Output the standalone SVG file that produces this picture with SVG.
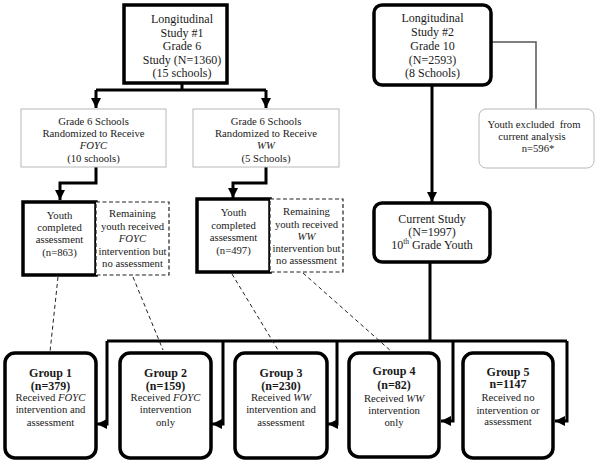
<svg xmlns="http://www.w3.org/2000/svg" width="600" height="465" viewBox="0 0 600 465">
<defs>
<marker id="ah" markerUnits="userSpaceOnUse" markerWidth="10" markerHeight="10" refX="10" refY="5" orient="auto">
<path d="M0,0 L10,5 L0,10 z" fill="#000"/>
</marker>
<style>
text{fill:#1a1a1a;text-anchor:middle}
.t12{font-size:12px}
.t11{font-size:10.7px}
.b{font-size:12px;font-weight:bold}
.thick{fill:#fff;stroke:#000;stroke-width:3.5}
.thin{fill:#fff;stroke:#b8b8b8;stroke-width:1}
.dbox{fill:#fff;stroke:#222;stroke-width:1.2;stroke-dasharray:4 2.5}
.conn{fill:none;stroke:#000;stroke-width:3}
.gray{fill:none;stroke:#555;stroke-width:1.5}
.dash{fill:none;stroke:#222;stroke-width:1;stroke-dasharray:4 3}
</style>
</defs>
<g font-family="'Liberation Serif', 'DejaVu Serif', serif">
<g id="connectors">
<path class="conn" d="M182,83 V90 M96,90 H266"/>
<path class="conn" d="M96,90 V108" marker-end="url(#ah)"/>
<path class="conn" d="M266,90 V108" marker-end="url(#ah)"/>
<path class="conn" d="M96,167 V183 H60 V200" marker-end="url(#ah)"/>
<path class="conn" d="M266,167 V183 H233 V198" marker-end="url(#ah)"/>
<path class="gray" d="M491,42 H536 V109"/>
<path class="conn" d="M432,85 V202" marker-end="url(#ah)"/>
<path class="conn" d="M430,262 V341 M107,341 H567"/>
<path class="conn" d="M107,341 V424 H97" marker-end="url(#ah)"/>
<path class="conn" d="M223,341 V424 H212" marker-end="url(#ah)"/>
<path class="conn" d="M337,341 V424 H328" marker-end="url(#ah)"/>
<path class="conn" d="M453,341 V421 H441" marker-end="url(#ah)"/>
<path class="conn" d="M567,341 V421 H555" marker-end="url(#ah)"/>
<path class="dash" d="M58,277 L50,352"/>
<path class="dash" d="M133,277 L163,350"/>
<path class="dash" d="M232,274 L278,350"/>
<path class="dash" d="M303,273 L392,352"/>
</g>
<g id="study1">
<rect class="thick" x="124" y="5" width="103" height="78"/>
<text class="t12" x="182" y="23">Longitudinal</text>
<text class="t12" x="182" y="36.5">Study #1</text>
<text class="t12" x="182" y="50">Grade 6</text>
<text class="t12" x="182" y="63.5">Study (N=1360)</text>
<text class="t12" x="182" y="77">(15 schools)</text>
</g>
<g id="study2">
<rect class="thick" x="374" y="5" width="117" height="80" rx="8"/>
<text class="t12" x="432.5" y="22">Longitudinal</text>
<text class="t12" x="432.5" y="36">Study #2</text>
<text class="t12" x="432.5" y="50">Grade 10</text>
<text class="t12" x="432.5" y="63.5">(N=2593)</text>
<text class="t12" x="432.5" y="77">(8 Schools)</text>
</g>
<g id="foyc-schools">
<rect class="thin" x="21" y="109" width="145" height="58"/>
<text class="t11" x="93.5" y="124.5">Grade 6 Schools</text>
<text class="t11" x="93.5" y="137">Randomized to Receive</text>
<text class="t11" x="93.5" y="149" font-style="italic">FOYC</text>
<text class="t11" x="93.5" y="161.5">(10 schools)</text>
</g>
<g id="ww-schools">
<rect class="thin" x="193" y="109" width="146" height="58"/>
<text class="t11" x="266" y="124.5">Grade 6 Schools</text>
<text class="t11" x="266" y="137">Randomized to Receive</text>
<text class="t11" x="266" y="149" font-style="italic">WW</text>
<text class="t11" x="266" y="161.5">(5 Schools)</text>
</g>
<g id="excluded">
<rect class="thin" x="479" y="109" width="115" height="59" rx="7"/>
<text class="t11" x="534" y="128" xml:space="preserve">Youth excluded  from</text>
<text class="t11" x="532" y="140">current analysis</text>
<text class="t11" x="538" y="152">n=596*</text>
</g>
<g id="foyc-completed">
<rect class="thick" x="23" y="202" width="73" height="73"/>
<text class="t11" x="59.5" y="218.5">Youth</text>
<text class="t11" x="59.5" y="231">completed</text>
<text class="t11" x="59.5" y="243">assessment</text>
<text class="t11" x="59.5" y="255.5">(n=863)</text>
</g>
<g id="foyc-remaining">
<rect class="dbox" x="96" y="202" width="73" height="73"/>
<text class="t11" x="132.5" y="217">Remaining</text>
<text class="t11" x="132.5" y="229.5">youth received</text>
<text class="t11" x="132.5" y="241.5" font-style="italic">FOYC</text>
<text class="t11" x="132.5" y="254.5">intervention but</text>
<text class="t11" x="132.5" y="266.5">no assessment</text>
</g>
<g id="ww-completed">
<rect class="thick" x="197" y="199" width="73" height="73"/>
<text class="t11" x="233.5" y="216">Youth</text>
<text class="t11" x="233.5" y="228.5">completed</text>
<text class="t11" x="233.5" y="240.5">assessment</text>
<text class="t11" x="233.5" y="253.5">(n=497)</text>
</g>
<g id="ww-remaining">
<rect class="dbox" x="270" y="199" width="73" height="73"/>
<text class="t11" x="306.5" y="215">Remaining</text>
<text class="t11" x="306.5" y="227.5">youth received</text>
<text class="t11" x="306.5" y="239.5" font-style="italic">WW</text>
<text class="t11" x="306.5" y="252">intervention but</text>
<text class="t11" x="306.5" y="264">no assessment</text>
</g>
<g id="current">
<rect class="thick" x="374" y="203" width="116" height="59" rx="8"/>
<text class="t12" x="432" y="223">Current Study</text>
<text class="t12" x="432" y="236">(N=1997)</text>
<text class="t12" x="432" y="249">10<tspan font-size="7.5" dy="-5">th</tspan><tspan dy="5"> Grade Youth</tspan></text>
</g>
<g id="group1">
<rect class="thick" x="5" y="353" width="91" height="105" rx="10"/>
<text class="b" x="50.5" y="376.5">Group 1</text>
<text class="b" x="50.5" y="389.5">(n=379)</text>
<text class="t11" x="50.5" y="401">Received <tspan font-style="italic">FOYC</tspan></text>
<text class="t11" x="50.5" y="413">intervention and</text>
<text class="t11" x="50.5" y="425.5">assessment</text>
</g>
<g id="group2">
<rect class="thick" x="120" y="353" width="91" height="105" rx="10"/>
<text class="b" x="165.5" y="376.5">Group 2</text>
<text class="b" x="165.5" y="389.5">(n=159)</text>
<text class="t11" x="165.5" y="401">Received <tspan font-style="italic">FOYC</tspan></text>
<text class="t11" x="165.5" y="413">intervention</text>
<text class="t11" x="165.5" y="425.5">only</text>
</g>
<g id="group3">
<rect class="thick" x="235" y="353" width="92" height="105" rx="10"/>
<text class="b" x="281" y="376.5">Group 3</text>
<text class="b" x="281" y="389.5">(n=230)</text>
<text class="t11" x="281" y="401">Received <tspan font-style="italic">WW</tspan></text>
<text class="t11" x="281" y="413">intervention and</text>
<text class="t11" x="281" y="425.5">assessment</text>
</g>
<g id="group4">
<rect class="thick" x="349" y="353" width="90" height="104" rx="10"/>
<text class="b" x="394" y="375">Group 4</text>
<text class="b" x="394" y="389">(n=82)</text>
<text class="t11" x="394" y="401.5">Received <tspan font-style="italic">WW</tspan></text>
<text class="t11" x="394" y="413.5">intervention</text>
<text class="t11" x="394" y="426">only</text>
</g>
<g id="group5">
<rect class="thick" x="463" y="353" width="90" height="105" rx="10"/>
<text class="b" x="508" y="375.5">Group 5</text>
<text class="b" x="508" y="388">n=1147</text>
<text class="t11" x="508" y="400.5">Received no</text>
<text class="t11" x="508" y="413.5">intervention or</text>
<text class="t11" x="508" y="425">assessment</text>
</g>
</g>
</svg>
